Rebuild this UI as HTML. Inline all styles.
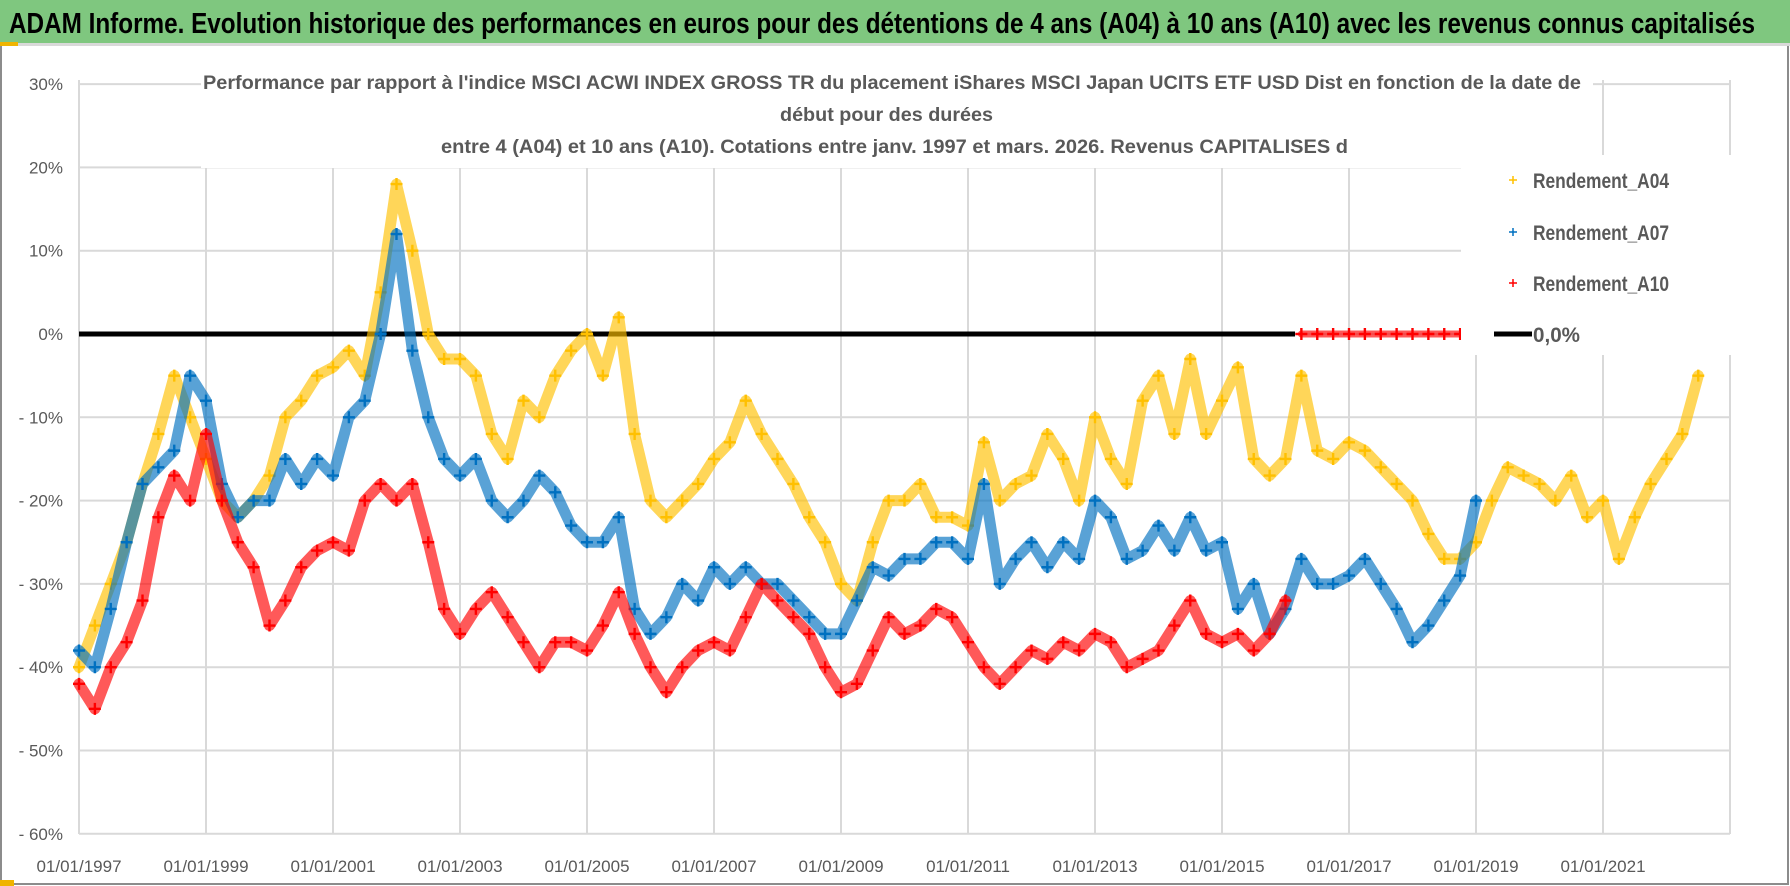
<!DOCTYPE html>
<html><head><meta charset="utf-8">
<style>
html,body{margin:0;padding:0;background:#fff;}
body{width:1790px;height:886px;overflow:hidden;font-family:"Liberation Sans",sans-serif;}
svg{display:block}
</style></head>
<body>
<svg id="chart" width="1790" height="886" viewBox="0 0 1790 886" xmlns="http://www.w3.org/2000/svg">
  <rect x="0" y="0" width="1790" height="886" fill="#fff"/>
  <rect x="1" y="1" width="1787" height="883" fill="none" stroke="#8c8c8c" stroke-width="2"/>
  <rect x="0" y="0" width="1790" height="43" fill="#7fc77f"/>
  <rect x="0" y="43" width="1790" height="3" fill="#d9d9d9"/>
  <rect x="0" y="42" width="18" height="4" fill="#f0b400"/>
  <rect x="0" y="880" width="14" height="6" fill="#f0b400"/>
  <text x="9" y="33" font-size="29" font-weight="bold" fill="#000" textLength="1746" lengthAdjust="spacingAndGlyphs">ADAM Informe. Evolution historique des performances en euros pour des détentions de 4 ans (A04) à 10 ans (A10) avec les revenus connus capitalisés</text>
  <g id="grid"></g>
  <g id="series"></g>
  <rect x="201" y="58" width="1392" height="110" fill="#fff"/>
  <g font-size="19" font-weight="bold" fill="#595959">
    <text x="203" y="89" textLength="1378" lengthAdjust="spacingAndGlyphs">Performance par rapport à l'indice MSCI ACWI INDEX GROSS TR  du placement iShares MSCI Japan UCITS ETF USD Dist en fonction de la date de</text>
    <text x="780" y="121" textLength="213" lengthAdjust="spacingAndGlyphs">début pour des durées</text>
    <text x="441" y="153" textLength="907" lengthAdjust="spacingAndGlyphs">entre 4 (A04) et 10 ans (A10).  Cotations entre janv. 1997 et mars. 2026. Revenus CAPITALISES d</text>
  </g>
  <g id="legend">
    <rect x="1461" y="155" width="270" height="200" fill="#fff"/>
    <g>
      <path d="M1509 180h8M1513 176v8" stroke="#ffc000" stroke-width="1.5"/>
      <text x="1533" y="188" font-size="21" font-weight="bold" fill="#595959" textLength="136" lengthAdjust="spacingAndGlyphs">Rendement_A04</text>
    </g>
    <g>
      <path d="M1509 232h8M1513 228v8" stroke="#0070c0" stroke-width="1.5"/>
      <text x="1533" y="240" font-size="21" font-weight="bold" fill="#595959" textLength="136" lengthAdjust="spacingAndGlyphs">Rendement_A07</text>
    </g>
    <g>
      <path d="M1509 283h8M1513 279v8" stroke="#ff0000" stroke-width="1.5"/>
      <text x="1533" y="291" font-size="21" font-weight="bold" fill="#595959" textLength="136" lengthAdjust="spacingAndGlyphs">Rendement_A10</text>
    </g>
    <g>
      <line x1="1494" y1="334" x2="1532" y2="334" stroke="#000" stroke-width="5"/>
      <text x="1533" y="342" font-size="21" font-weight="bold" fill="#595959" textLength="47" lengthAdjust="spacingAndGlyphs">0,0%</text>
    </g>
  </g>
  <g id="axes"></g>
</svg>
<script>
// ---- data ----
const yTicks = [30, 20, 10, 0, -10, -20, -30, -40, -50, -60];
const yTickLabels = ["30%", "20%", "10%", "0%", "- 10%", "- 20%", "- 30%", "- 40%", "- 50%", "- 60%"];
const xTicks = [1997, 1999, 2001, 2003, 2005, 2007, 2009, 2011, 2013, 2015, 2017, 2019, 2021, 2023];
const xTickLabels = ["01/01/1997","01/01/1999","01/01/2001","01/01/2003","01/01/2005","01/01/2007","01/01/2009","01/01/2011","01/01/2013","01/01/2015","01/01/2017","01/01/2019","01/01/2021",""];
const seriesStep = 0.25;
const a04Start = 1997;
const a04Values = [-40,-35,-30,-25,-18,-12,-5,-10,-15,-20,-22,-20,-17,-10,-8,-5,-4,-2,-5,5,18,10,0,-3,-3,-5,-12,-15,-8,-10,-5,-2,0,-5,2,-12,-20,-22,-20,-18,-15,-13,-8,-12,-15,-18,-22,-25,-30,-32,-25,-20,-20,-18,-22,-22,-23,-13,-20,-18,-17,-12,-15,-20,-10,-15,-18,-8,-5,-12,-3,-12,-8,-4,-15,-17,-15,-5,-14,-15,-13,-14,-16,-18,-20,-24,-27,-27,-25,-20,-16,-17,-18,-20,-17,-22,-20,-27,-22,-18,-15,-12,-5];
const a07Start = 1997;
const a07Values = [-38,-40,-33,-25,-18,-16,-14,-5,-8,-18,-22,-20,-20,-15,-18,-15,-17,-10,-8,0,12,-2,-10,-15,-17,-15,-20,-22,-20,-17,-19,-23,-25,-25,-22,-33,-36,-34,-30,-32,-28,-30,-28,-30,-30,-32,-34,-36,-36,-32,-28,-29,-27,-27,-25,-25,-27,-18,-30,-27,-25,-28,-25,-27,-20,-22,-27,-26,-23,-26,-22,-26,-25,-33,-30,-36,-33,-27,-30,-30,-29,-27,-30,-33,-37,-35,-32,-29,-20];
const a10Start = 1997;
const a10Values = [-42,-45,-40,-37,-32,-22,-17,-20,-12,-20,-25,-28,-35,-32,-28,-26,-25,-26,-20,-18,-20,-18,-25,-33,-36,-33,-31,-34,-37,-40,-37,-37,-38,-35,-31,-36,-40,-43,-40,-38,-37,-38,-34,-30,-32,-34,-36,-40,-43,-42,-38,-34,-36,-35,-33,-34,-37,-40,-42,-40,-38,-39,-37,-38,-36,-37,-40,-39,-38,-35,-32,-36,-37,-36,-38,-36,-32];
const a10ZeroStart = 2016.25;
const a10ZeroValues = [0,0,0,0,0,0,0,0,0,0,0];
const zeroLineStart = 1997;
const zeroLineEnd = 2016.15;

// ---- axis functions ----
const X0 = 79, PX_PER_YEAR = 63.5, Y0 = 334, PX_PER_PCT = 8.33;
const xScale = yr => X0 + (yr - 1997) * PX_PER_YEAR;
const yScale = v => Y0 - v * PX_PER_PCT;
const NS = "http://www.w3.org/2000/svg";
function mk(tag, attrs, parent){ const e=document.createElementNS(NS,tag); for(const k in attrs) e.setAttribute(k,attrs[k]); parent.appendChild(e); return e; }

const grid = document.getElementById('grid');
const axes = document.getElementById('axes');
const PLOT_L = 79, PLOT_R = 1730, PLOT_T = 80, PLOT_B = 834;
yTicks.forEach((v,i)=>{
  const y = yScale(v);
  const l = mk('line',{x1:PLOT_L,x2:PLOT_R,y1:y,y2:y,stroke:'#d9d9d9','stroke-width':2},grid);
  
  
  const t = mk('text',{x:63,y:y+6,'text-anchor':'end','font-size':17,fill:'#595959'},axes);
  
  
  t.textContent = yTickLabels[i];
});
xTicks.forEach((yr,i)=>{
  const x = xScale(yr);
  const l = mk('line',{x1:x,x2:x,y1:PLOT_T,y2:PLOT_B,stroke:'#d9d9d9','stroke-width':2},grid);
  
  
  if (xTickLabels[i]) {
    const t = mk('text',{x:x,y:872,'text-anchor':'middle','font-size':17,fill:'#595959'},axes);
    
    
    t.textContent = xTickLabels[i];
  }
});

const seriesLayer = document.getElementById('series');
const zl = mk('line',{x1:xScale(zeroLineStart),x2:xScale(zeroLineEnd),y1:yScale(0),y2:yScale(0),stroke:'#000','stroke-width':5},seriesLayer);



function drawSeries(name, start, values, color, bandWidth){
  const g = mk('g',{},seriesLayer);
  
  
  const pts = values.map((v,i)=>xScale(start+i*seriesStep).toFixed(1)+','+yScale(v).toFixed(1)).join(' ');
  mk('polyline',{points:pts,fill:'none',stroke:color,'stroke-width':bandWidth,'stroke-linejoin':'round','stroke-linecap':'round','opacity':0.65},g);
  values.forEach((v,i)=>{
    const x = xScale(start+i*seriesStep), y = yScale(v);
    const p = mk('path',{d:`M${x-6} ${y}h12M${x} ${y-6}v12`,stroke:color,'stroke-width':2.4},g);
    
    
  });
}
drawSeries('series-a04', a04Start, a04Values, '#ffc000', 11);
drawSeries('series-a07', a07Start, a07Values, '#0070c0', 11);
drawSeries('series-a10', a10Start, a10Values, '#ff0000', 11);
drawSeries('series-a10-zero', a10ZeroStart, a10ZeroValues, '#ff0000', 7);
const lone = mk('path',{d:`M${xScale(2022.9)-4} ${yScale(0)}h8M${xScale(2022.9)} ${yScale(0)-4}v8`,stroke:'#ff0000','stroke-width':2},seriesLayer);


</script>
</body></html>
